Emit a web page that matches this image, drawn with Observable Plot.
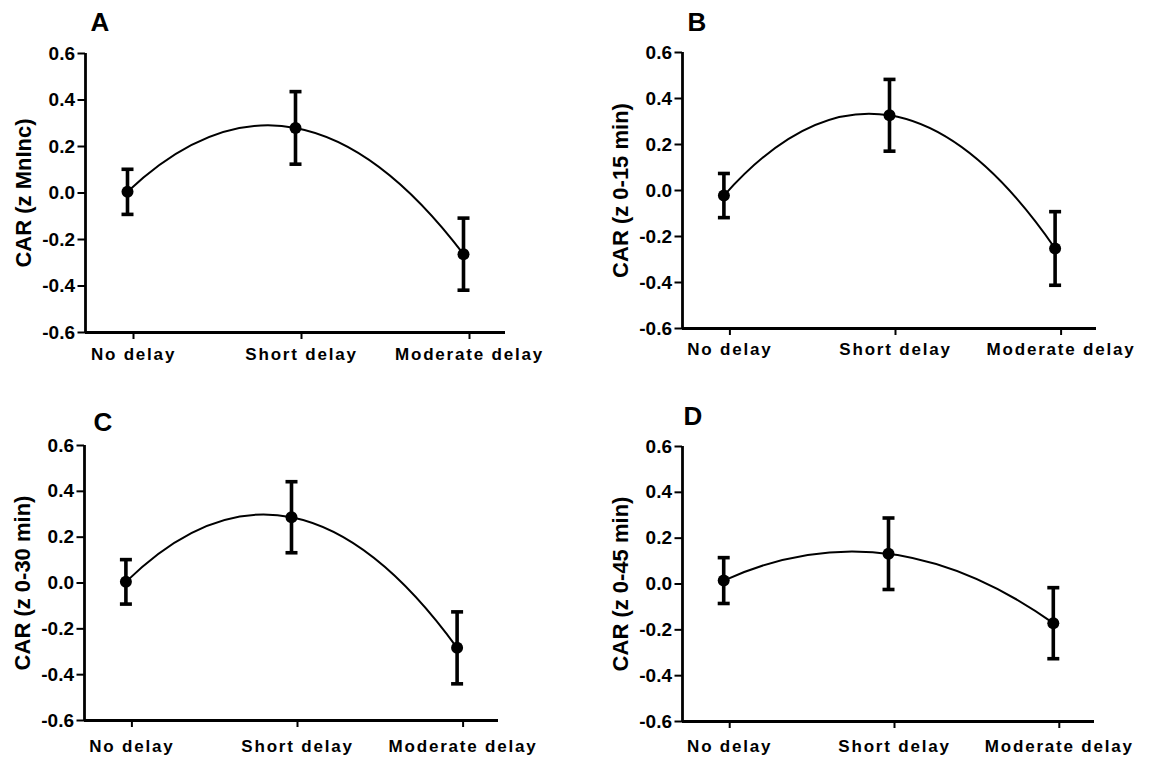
<!DOCTYPE html>
<html>
<head>
<meta charset="utf-8">
<script src="https://cdn.jsdelivr.net/npm/d3@7"></script>
<script src="https://cdn.jsdelivr.net/npm/@observablehq/plot@0.6"></script>
<style>
  html, body { margin: 0; padding: 0; background: #fff; }
  #wrap { position: relative; width: 1153px; height: 764px; overflow: hidden; }
  .panel { position: absolute; }
  .panel svg { display: block; overflow: visible; }
  g[aria-label="x-axis tick label"] text { letter-spacing: 1.8px; }
</style>
</head>
<body>
<div id="wrap"></div>
<script>
// ---- data ----
const categories = ["No delay", "Short delay", "Moderate delay"];
const panelLetters = ["A", "B", "C", "D"];
const yTitles = ["CAR (z MnInc)", "CAR (z 0-15 min)", "CAR (z 0-30 min)", "CAR (z 0-45 min)"];
const yTicks = [-0.6, -0.4, -0.2, 0.0, 0.2, 0.4, 0.6];

const meanA = [0.005, 0.280, -0.263];
const semA  = [0.097, 0.156, 0.155];
const meanB = [-0.022, 0.327, -0.252];
const semB  = [0.096, 0.156, 0.160];
const meanC = [0.005, 0.287, -0.283];
const semC  = [0.097, 0.155, 0.157];
const meanD = [0.015, 0.132, -0.171];
const semD  = [0.100, 0.156, 0.155];

const means = [meanA, meanB, meanC, meanD];
const sems = [semA, semB, semC, semD];

// ---- layout (page pixels) ----
const layout = [
  {left: 0,   top: 0,   width: 576, height: 380, ml: 85,  mr: 71, mt: 53, mb: 48, pad: 8,   ldx: 5,  ldy: -23},
  {left: 576, top: 0,   width: 577, height: 380, ml: 106, mr: 57, mt: 52, mb: 52, pad: 7.5, ldx: 5,  ldy: -22},
  {left: 0,   top: 380, width: 576, height: 384, ml: 84,  mr: 78, mt: 65, mb: 44, pad: 12,  ldx: 9,  ldy: -15},
  {left: 576, top: 380, width: 577, height: 384, ml: 106, mr: 59, mt: 66, mb: 43, pad: 11.5,ldx: 1,  ldy: -22}
];

// quadratic (2nd-order polynomial) fit through the three group means,
// drawn exactly as a quadratic Bezier in screen space
function parabola(context) {
  let pts = [];
  return {
    areaStart() {}, areaEnd() {},
    lineStart() { pts = []; },
    lineEnd() {
      if (pts.length === 3) {
        const [p0, p1, p2] = pts;
        context.moveTo(p0[0], p0[1]);
        context.quadraticCurveTo(p1[0], 2 * p1[1] - (p0[1] + p2[1]) / 2, p2[0], p2[1]);
      } else {
        pts.forEach((p, i) => i ? context.lineTo(p[0], p[1]) : context.moveTo(p[0], p[1]));
      }
    },
    point(x, y) { pts.push([+x, +y]); }
  };
}

const capSymbol = {
  draw(context, size) {
    const r = Math.sqrt(size / Math.PI);
    context.moveTo(-r, 0);
    context.lineTo(r, 0);
  }
};

const wrap = document.getElementById("wrap");

panelLetters.forEach((letter, p) => {
  const L = layout[p];
  const rows = categories.map((c, i) => ({i, cat: c, mean: means[p][i], sem: sems[p][i]}));

  const chart = Plot.plot({
    width: L.width,
    height: L.height,
    marginLeft: L.ml,
    marginRight: L.mr,
    marginTop: L.mt,
    marginBottom: L.mb,
    style: {fontFamily: "'Liberation Sans', Arial, sans-serif", fontSize: "17px", fontWeight: "bold", color: "#000", background: "transparent", overflow: "visible"},
    x: {domain: [-0.25, 2.25]},
    y: {domain: [-0.6, 0.6]},
    marks: [
      Plot.axisY({ticks: yTicks, tickFormat: d => d.toFixed(1), tickSize: 7.5, tickPadding: 3, strokeWidth: 2, fontSize: 19, label: null}),
      Plot.axisX({ticks: [0, 1, 2], tickFormat: i => categories[i], tickSize: 7, tickPadding: L.pad, strokeWidth: 2, fontSize: 17, dx: 6, label: null}),
      Plot.ruleX([-0.25], {strokeWidth: 2.8}),
      Plot.ruleY([-0.6], {strokeWidth: 2.8}),
      Plot.line(rows, {x: "i", y: "mean", curve: parabola, strokeWidth: 2, stroke: "#000"}),
      Plot.ruleX(rows, {x: "i", y1: d => d.mean - d.sem, y2: d => d.mean + d.sem, strokeWidth: 3.6, stroke: "#000"}),
      Plot.dot(rows, {x: "i", y: d => d.mean + d.sem, symbol: capSymbol, r: 6, fill: "none", stroke: "#000", strokeWidth: 3.6}),
      Plot.dot(rows, {x: "i", y: d => d.mean - d.sem, symbol: capSymbol, r: 6, fill: "none", stroke: "#000", strokeWidth: 3.6}),
      Plot.dot(rows, {x: "i", y: "mean", r: 6, fill: "#000", stroke: "none"}),
      Plot.text([yTitles[p]], {frameAnchor: "left", text: d => d, rotate: -90, textAnchor: "middle", lineAnchor: "middle", dx: -62, fontSize: 22, fontWeight: "bold"}),
      Plot.text([letter], {frameAnchor: "top-left", text: d => d, textAnchor: "start", lineAnchor: "bottom", dx: L.ldx, dy: L.ldy, fontSize: 26, fontWeight: "bold"})
    ]
  });

  const div = document.createElement("div");
  div.className = "panel";
  div.style.left = L.left + "px";
  div.style.top = L.top + "px";
  div.appendChild(chart);
  wrap.appendChild(div);
});
</script>
</body>
</html>
